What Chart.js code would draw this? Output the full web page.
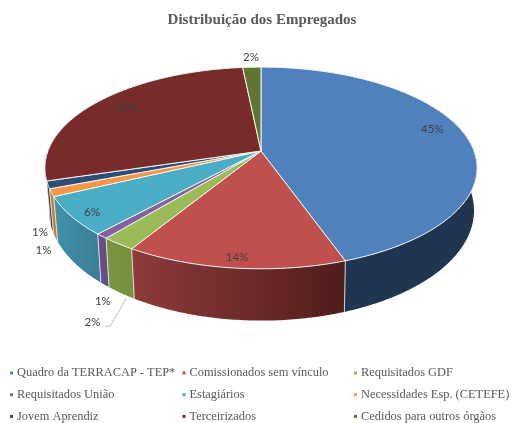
<!DOCTYPE html>
<html><head><meta charset="utf-8">
<style>html,body{margin:0;padding:0;background:#fff}#w{width:511px;height:423px}canvas{filter:blur(.35px)}</style>
<script src="https://cdn.jsdelivr.net/npm/chart.js@4"></script></head>
<body><div id="w"><canvas id="c" width="511" height="423"></canvas></div>
<script>
const categories=["Quadro da TERRACAP - TEP*","Comissionados sem vínculo","Requisitados GDF","Requisitados União","Estagiários","Necessidades Esp. (CETEFE)","Jovem Aprendiz","Terceirizados","Cedidos para outros órgãos"];
const shares=[44.6,14.1,2.2,0.8,6.2,1.2,1.2,28.1,1.6];
const topColors=["#4f81bd","#c0504d","#9bbb59","#8064a2","#4bacc6","#f79646","#2c4d75","#772c2a","#5f7530"];
const wallLight=["#1f3650","#8f3b39","#7a953f","#6a4f88","#3f93aa","#d0802f","#254060","#5e2220","#4c5e26"];
const wallDark=["#1f3550","#4f1d1b","#76903d","#634a80","#3a7c93","#c87a2c","#203650","#4f1c1b","#445521"];
const FONT_S='"Liberation Serif",serif', FONT_L='Lato,"Open Sans",sans-serif';
const topPlane={cx:261,cy:151,R:213,S:98,p:0.168};
const basePlane={cx:261.5,cy:192,R:209.5,S:107,p:0.168};
function project(pl,ang,f){const u=Math.sin(ang)*f,v=-Math.cos(ang)*f,d=1-pl.p*v;return[pl.cx+pl.R*u/d,pl.cy+pl.S*v/d,v];}
const A=a=>a+Math.PI/2;
const pie3d={id:'pie3d',
 beforeDatasetsDraw(chart){
  const ctx=chart.ctx,arcs=chart.getDatasetMeta(0).data,colors=chart.data.datasets[0].backgroundColor;
  const walls=[];
  arcs.forEach((el,i)=>{
   const a0=A(el.startAngle),a1=A(el.endAngle),n=Math.max(4,Math.ceil((a1-a0)*80));
   const pts=[];for(let k=0;k<=n;k++){const a=a0+(a1-a0)*k/n;if(-Math.cos(a)>=-0.45)pts.push(a);}
   if(pts.length>1)walls.push({i,pts,v:-Math.cos((pts[0]+pts[pts.length-1])/2)});
  });
  walls.sort((a,b)=>a.v-b.v).forEach(w=>{
   const t=w.pts.map(a=>project(topPlane,a,1)),b=w.pts.map(a=>project(basePlane,a,1));
   const xs=t.concat(b).map(p=>p[0]),xa=Math.min(...xs),xb=Math.max(...xs);
   const g=ctx.createLinearGradient(xa,0,xb,0);g.addColorStop(0,wallLight[w.i]);g.addColorStop(1,wallDark[w.i]);
   ctx.beginPath();t.forEach((p,k)=>k?ctx.lineTo(p[0],p[1]):ctx.moveTo(p[0],p[1]));
   b.reverse().forEach(p=>ctx.lineTo(p[0],p[1]));ctx.closePath();
   ctx.fillStyle=g;ctx.fill();
   ctx.strokeStyle='rgba(255,255,255,.75)';ctx.lineWidth=.8;
   ctx.beginPath();ctx.moveTo(t[0][0],t[0][1]);ctx.lineTo(b[b.length-1][0],b[b.length-1][1]);
   const e=t.length-1;ctx.moveTo(t[e][0],t[e][1]);ctx.lineTo(b[0][0],b[0][1]);ctx.stroke();
  });
  arcs.forEach((el,i)=>{
   const a0=A(el.startAngle),a1=A(el.endAngle),n=Math.max(4,Math.ceil((a1-a0)*80));
   ctx.beginPath();ctx.moveTo(topPlane.cx,topPlane.cy);
   for(let k=0;k<=n;k++){const p=project(topPlane,a0+(a1-a0)*k/n,1);ctx.lineTo(p[0],p[1]);}
   ctx.closePath();ctx.fillStyle=colors[i];ctx.fill();
   ctx.strokeStyle='#f4f4f4';ctx.lineWidth=1;ctx.stroke();
  });
  const lead=project(basePlane,A((arcs[2].startAngle+arcs[2].endAngle)/2),1);
  ctx.beginPath();ctx.moveTo(lead[0]+5,lead[1]+5);ctx.lineTo(lead[0]-11,lead[1]+33);ctx.lineTo(lead[0]-16,lead[1]+33);
  ctx.strokeStyle='#bfbfbf';ctx.lineWidth=1;ctx.stroke();
  const total=shares.reduce((s,x)=>s+x,0);
  const spots=[[.82,3,-8],[.92,0,0],[1,-26,79],[1,1,65],[.9,0,3],[1,-8,58],[1,-8,47],[.72,-14,-7],[1.1,0,-3]];
  ctx.font='11.5px '+FONT_L;ctx.textAlign='center';ctx.textBaseline='middle';ctx.fillStyle='#404040';
  arcs.forEach((el,i)=>{
   const a=A((el.startAngle+el.endAngle)/2),s=spots[i],p=project(topPlane,a,s[0]);
   ctx.fillText(Math.round(shares[i]/total*100)+'%',p[0]+s[1],p[1]+s[2]);
  });
  ctx.font='12.4px '+FONT_S;ctx.textAlign='left';
  categories.forEach((name,i)=>{
   const x=[10,182.5,354][i%3],y=373+Math.floor(i/3)*21.7;
   ctx.fillStyle=colors[i];ctx.fillRect(x,y-1.5,3,3);
   ctx.fillStyle='#595959';ctx.fillText(name,x+7,y);
  });
  return false;
 }};
new Chart(document.getElementById('c'),{
 type:'pie',
 data:{labels:categories,datasets:[{data:shares,backgroundColor:topColors,borderWidth:0}]},
 options:{responsive:false,animation:false,
  layout:{padding:{top:4,left:13}},
  plugins:{legend:{display:false},tooltip:{enabled:false},
   title:{display:true,text:'Distribuição dos Empregados',color:'#595959',font:{family:FONT_S,size:15,weight:'bold'},padding:{top:7,bottom:6}}}},
 plugins:[pie3d]});
</script></body></html>
